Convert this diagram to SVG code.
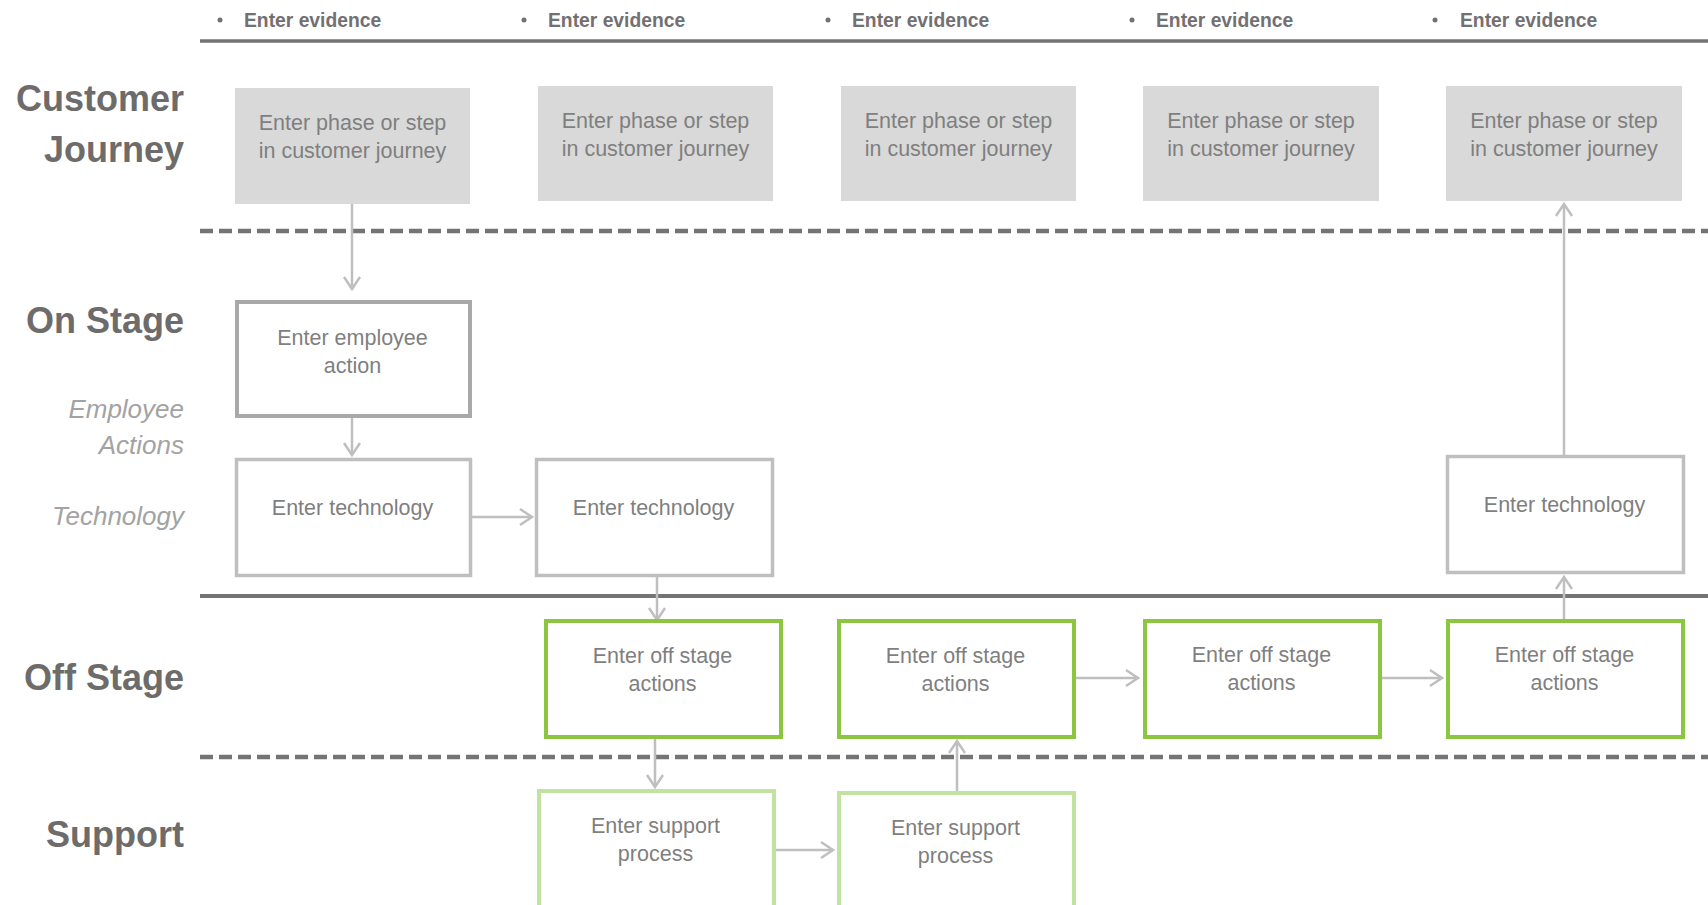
<svg xmlns="http://www.w3.org/2000/svg" width="1708" height="905" viewBox="0 0 1708 905">
<style>
.lane{font-family:"Liberation Sans",Arial,sans-serif;font-weight:bold;font-size:36px;fill:#6e6b6b;text-anchor:end}
.sub{font-family:"Liberation Sans",Arial,sans-serif;font-style:italic;font-size:26px;fill:#a3a3a3;text-anchor:end}
.ev{font-family:"Liberation Sans",Arial,sans-serif;font-weight:bold;font-size:19.3px;fill:#727070}
.t{font-family:"Liberation Sans",Arial,sans-serif;font-size:21.5px;fill:#7f7f7f;text-anchor:middle}
.cj{fill:#d9d9d9}
.emp{fill:#fff;stroke:#a9a9a9;stroke-width:4}
.tech{fill:#fff;stroke:#bfbfbf;stroke-width:3.5}
.off{fill:#fff;stroke:#8cc63f;stroke-width:4}
.sup{fill:#fff;stroke:#c2e2a0;stroke-width:4}
.sep{stroke:#757373;fill:none}
.dash{stroke-width:4.5;stroke-dasharray:13 6}
.con{stroke:#bfbfbf;stroke-width:2.5;fill:none;marker-end:url(#arr)}
</style>
<defs>
<marker id="arr" viewBox="0 0 20 20" markerWidth="20" markerHeight="20" refX="14" refY="10" orient="auto" markerUnits="userSpaceOnUse">
<path d="M2,2 L14,10 L2,18" fill="none" stroke="#bfbfbf" stroke-width="2.5"/>
</marker>
</defs>
<rect width="1708" height="905" fill="#fff"/>

<g id="evidence">
<circle cx="220" cy="20" r="2.5" fill="#727070"/><text class="ev" x="244" y="27">Enter evidence</text>
<circle cx="524" cy="20" r="2.5" fill="#727070"/><text class="ev" x="548" y="27">Enter evidence</text>
<circle cx="828" cy="20" r="2.5" fill="#727070"/><text class="ev" x="852" y="27">Enter evidence</text>
<circle cx="1132" cy="20" r="2.5" fill="#727070"/><text class="ev" x="1156" y="27">Enter evidence</text>
<circle cx="1435" cy="20" r="2.5" fill="#727070"/><text class="ev" x="1460" y="27">Enter evidence</text>
</g>

<g id="separators">
<line class="sep" x1="200" y1="41" x2="1708" y2="41" stroke-width="3.5"/>
<line class="sep dash" x1="200" y1="231" x2="1708" y2="231"/>
<line class="sep" x1="200" y1="596" x2="1708" y2="596" stroke-width="4"/>
<line class="sep dash" x1="200" y1="757" x2="1708" y2="757"/>
</g>

<g id="lane-labels">
<text class="lane" x="184" y="111">Customer</text>
<text class="lane" x="184" y="162">Journey</text>
<text class="lane" x="184" y="333">On Stage</text>
<text class="sub" x="184" y="418">Employee</text>
<text class="sub" x="184" y="454">Actions</text>
<text class="sub" x="184" y="525">Technology</text>
<text class="lane" x="184" y="690">Off Stage</text>
<text class="lane" x="184" y="847">Support</text>
</g>

<g id="connectors">
<path class="con" d="M352,204 V289"/>
<path class="con" d="M352,418 V455"/>
<path class="con" d="M472,517 H532"/>
<path class="con" d="M657,577 V620"/>
<path class="con" d="M655,739 V787"/>
<path class="con" d="M776,850 H833"/>
<path class="con" d="M957,792 V741"/>
<path class="con" d="M1076,678 H1138"/>
<path class="con" d="M1382,678 H1442"/>
<path class="con" d="M1564,619 V577"/>
<path class="con" d="M1564,455 V204"/>
</g>

<g id="cj1"><rect class="cj" x="235" y="88" width="235" height="116"/><text class="t" x="352.5" y="130">Enter phase or step</text><text class="t" x="352.5" y="158">in customer journey</text></g>
<g id="cj2"><rect class="cj" x="538" y="86" width="235" height="115"/><text class="t" x="655.5" y="128">Enter phase or step</text><text class="t" x="655.5" y="156">in customer journey</text></g>
<g id="cj3"><rect class="cj" x="841" y="86" width="235" height="115"/><text class="t" x="958.5" y="128">Enter phase or step</text><text class="t" x="958.5" y="156">in customer journey</text></g>
<g id="cj4"><rect class="cj" x="1143" y="86" width="236" height="115"/><text class="t" x="1261" y="128">Enter phase or step</text><text class="t" x="1261" y="156">in customer journey</text></g>
<g id="cj5"><rect class="cj" x="1446" y="86" width="236" height="115"/><text class="t" x="1564" y="128">Enter phase or step</text><text class="t" x="1564" y="156">in customer journey</text></g>

<g id="emp1"><rect class="emp" x="237" y="302" width="233" height="114"/><text class="t" x="352.5" y="345">Enter employee</text><text class="t" x="352.5" y="373">action</text></g>

<g id="tech1"><rect class="tech" x="236.5" y="459.5" width="234" height="116"/><text class="t" x="352.5" y="515">Enter technology</text></g>
<g id="tech2"><rect class="tech" x="536.5" y="459.5" width="236" height="116"/><text class="t" x="653.5" y="515">Enter technology</text></g>
<g id="tech3"><rect class="tech" x="1447.5" y="456.5" width="236" height="116"/><text class="t" x="1564.5" y="512">Enter technology</text></g>

<g id="off1"><rect class="off" x="546" y="621" width="235" height="116"/><text class="t" x="662.5" y="663">Enter off stage</text><text class="t" x="662.5" y="691">actions</text></g>
<g id="off2"><rect class="off" x="839" y="621" width="235" height="116"/><text class="t" x="955.5" y="663">Enter off stage</text><text class="t" x="955.5" y="691">actions</text></g>
<g id="off3"><rect class="off" x="1145" y="621" width="235" height="116"/><text class="t" x="1261.5" y="662">Enter off stage</text><text class="t" x="1261.5" y="690">actions</text></g>
<g id="off4"><rect class="off" x="1448" y="621" width="235" height="116"/><text class="t" x="1564.5" y="662">Enter off stage</text><text class="t" x="1564.5" y="690">actions</text></g>

<g id="sup1"><rect class="sup" x="539" y="791" width="235" height="130"/><text class="t" x="655.5" y="833">Enter support</text><text class="t" x="655.5" y="861">process</text></g>
<g id="sup2"><rect class="sup" x="839" y="793" width="235" height="130"/><text class="t" x="955.5" y="835">Enter support</text><text class="t" x="955.5" y="863">process</text></g>
</svg>
